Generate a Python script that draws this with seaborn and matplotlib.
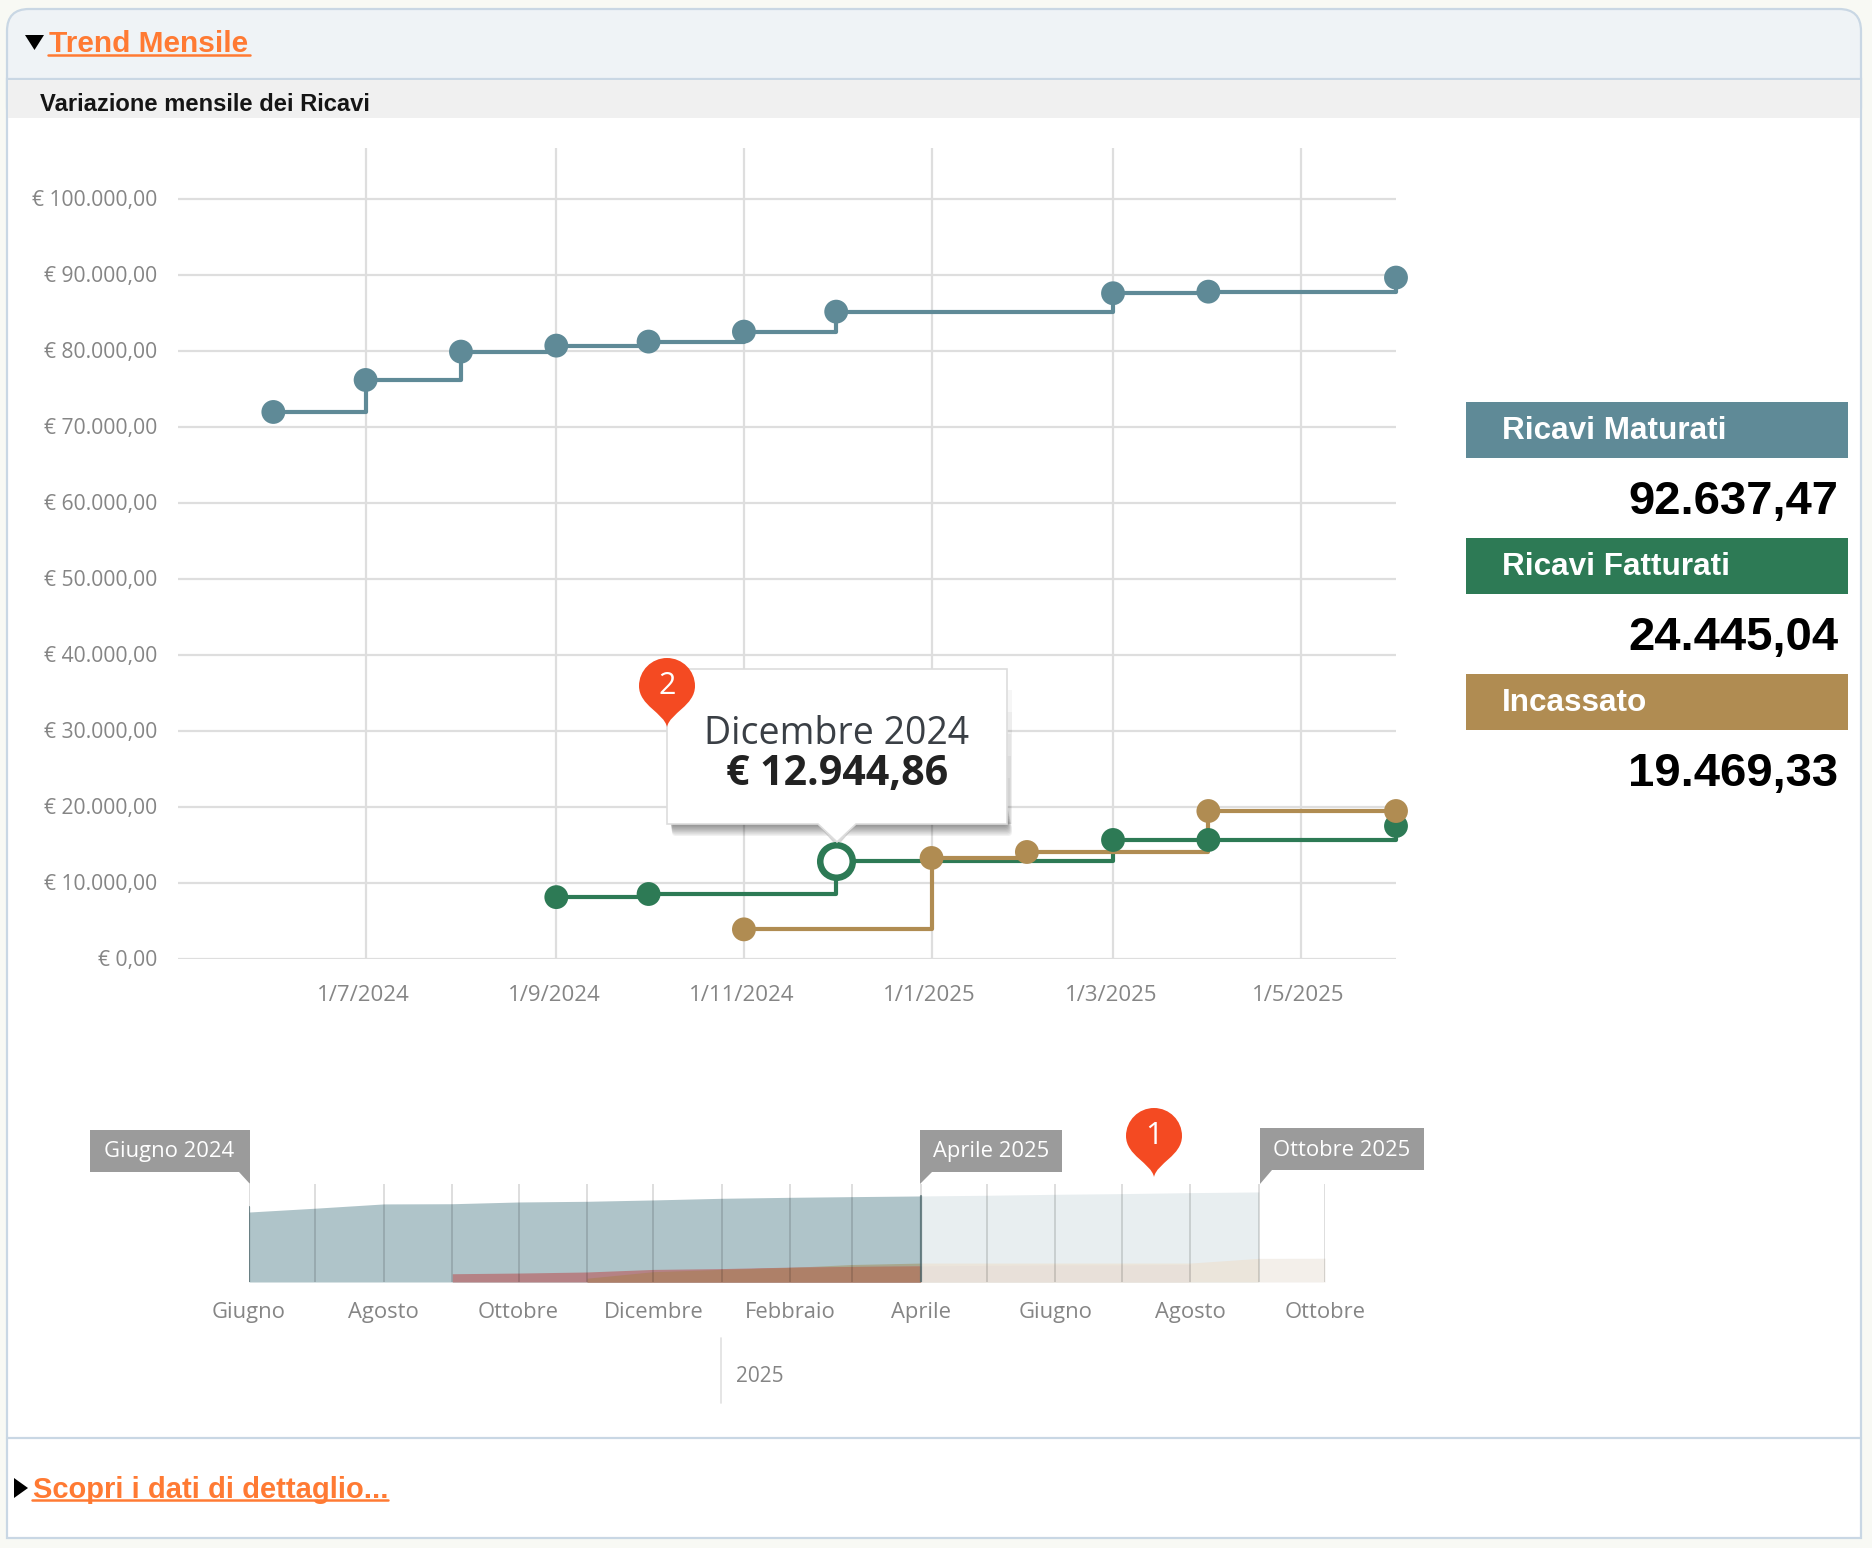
import matplotlib
matplotlib.use("Agg")
import matplotlib.pyplot as plt
import matplotlib.dates as mdates
from matplotlib.patches import Rectangle, Polygon, FancyBboxPatch, PathPatch
from matplotlib.path import Path
from matplotlib.transforms import ScaledTranslation
import numpy as np
import pandas as pd
import seaborn as sns

# ---- dati del grafico mensile ----
mesi_maturati = ["2024-06-01", "2024-07-01", "2024-08-01", "2024-09-01", "2024-10-01",
                 "2024-11-01", "2024-12-01", "2025-03-01", "2025-04-01", "2025-06-01"]
val_maturati = [71970, 76180, 79910, 80700, 81230, 82540, 85170, 87590, 87800, 89650]

mesi_fatturati = ["2024-09-01", "2024-10-01", "2024-12-01", "2025-03-01", "2025-04-01", "2025-06-01"]
val_fatturati = [8140, 8550, 12944.86, 15660, 15660, 17500]

mesi_incassato = ["2024-11-01", "2025-01-01", "2025-02-01", "2025-04-01", "2025-06-01"]
val_incassato = [3900, 13290, 14080, 19469.33, 19469.33]

tick_y = [0, 10000, 20000, 30000, 40000, 50000, 60000, 70000, 80000, 90000, 100000]
etichette_y = ["€ 0,00", "€ 10.000,00", "€ 20.000,00", "€ 30.000,00", "€ 40.000,00", "€ 50.000,00",
               "€ 60.000,00", "€ 70.000,00", "€ 80.000,00", "€ 90.000,00", "€ 100.000,00"]
tick_x = ["2024-07-01", "2024-09-01", "2024-11-01", "2025-01-01", "2025-03-01", "2025-05-01"]
etichette_x = ["1/7/2024", "1/9/2024", "1/11/2024", "1/1/2025", "1/3/2025", "1/5/2025"]

# ---- dati del navigatore temporale ----
nav_mesi = pd.date_range("2024-06-01", "2025-10-01", freq="MS")
nav_maturati = [71970, 75900, 80300, 80500, 82300, 83000, 84400, 86100, 87100, 87800,
                88500, 89200, 90200, 90900, 91900, 92637.47, np.nan]
nav_fatturati = [np.nan, np.nan, np.nan, 8500, 9200, 10300, 12944.86, 13800, 15300, 16000,
                 16500, 17000, 17500, 17500, 18000, 24300, 24445.04]
nav_incassato = [np.nan, np.nan, np.nan, np.nan, np.nan, 3900, 10600, 13000, 15000, 18000,
                 19469.33, 19469.33, 19469.33, 19469.33, 19469.33, np.nan, np.nan]
nav_tick_mesi = ["Giugno", "Agosto", "Ottobre", "Dicembre", "Febbraio", "Aprile", "Giugno", "Agosto", "Ottobre"]

# ---- riquadri riassuntivi ----
riepilogo = ["Ricavi Maturati", "Ricavi Fatturati", "Incassato"]
riepilogo_val = ["92.637,47", "24.445,04", "19.469,33"]
col_maturati, col_fatturati, col_incassato = "#5f8a97", "#2d7a55", "#b08c52"

W, H = 1872, 1548
sns.set_theme(style="white")
plt.rcParams["font.family"] = ["Open Sans", "DejaVu Sans"]
fig = plt.figure(figsize=(W / 100, H / 100), dpi=100, facecolor="#f8f9f4")


def axes_px(x0, y0, x1, y1, **kw):
    """Axes placed by pixel edges, with y measured from the top of the figure."""
    return fig.add_axes([x0 / W, 1 - y1 / H, (x1 - x0) / W, (y1 - y0) / H], **kw)


def canvas(zorder):
    a = fig.add_axes([0, 0, 1, 1], zorder=zorder)
    a.set_xlim(0, W)
    a.set_ylim(H, 0)
    a.axis("off")
    a.patch.set_alpha(0)
    return a


# ---- pannello di sfondo ----
bg = canvas(0)
bordo = "#c9d7e4"
bg.add_patch(FancyBboxPatch((7, 9), 1854, 120, boxstyle="round,pad=0,rounding_size=22",
                            fc="#eff3f6", ec=bordo, lw=1.6))
bg.add_patch(Rectangle((7, 79), 1854, 1459, fc="white", ec=bordo, lw=1.6))
bg.add_patch(Rectangle((8, 80), 1852, 38, fc="#f0f0f0", ec="none"))
bg.plot([7, 1861], [1438, 1438], color=bordo, lw=1.6)

sans = ["Liberation Sans", "DejaVu Sans"]
arancio = "#ff7a33"
bg.add_patch(Polygon([[25, 35], [44, 35], [34.5, 50]], fc="black", ec="none"))
bg.text(49, 44, "Trend Mensile", color=arancio, family=sans, weight="bold", fontsize=21.5,
        va="center", ha="left")
bg.plot([48, 250], [55, 55], color=arancio, lw=1.8)
bg.text(40, 104.5, "Variazione mensile dei Ricavi", color="#151515", family=sans, weight="bold",
        fontsize=17.1, va="center", ha="left")
bg.add_patch(Polygon([[14, 1478], [28, 1488], [14, 1498]], fc="black", ec="none"))
bg.text(33, 1490.5, "Scopri i dati di dettaglio...", color=arancio, family=sans, weight="bold",
        fontsize=21, va="center", ha="left")
bg.plot([32, 388], [1500, 1500], color=arancio, lw=1.8)

# ---- riquadri riassuntivi a destra ----
for nome, valore, col, top in zip(riepilogo, riepilogo_val,
                                  [col_maturati, col_fatturati, col_incassato], [402, 538, 674]):
    bg.add_patch(Rectangle((1466, top), 382, 56, fc=col, ec="none"))
    bg.text(1502, top + 29, nome, color="white", family=sans, weight="bold", fontsize=22.7,
            va="center", ha="left")
    bg.text(1838, top + 100, valore, color="black", family=sans, weight="bold", fontsize=34,
            va="center", ha="right")

# ---- grafico mensile a gradini ----
ax = axes_px(178, 148, 1396, 959, zorder=1)
ax.patch.set_alpha(0)
serie = pd.concat([
    pd.DataFrame({"mese": pd.to_datetime(mesi_maturati), "valore": val_maturati, "serie": riepilogo[0]}),
    pd.DataFrame({"mese": pd.to_datetime(mesi_fatturati), "valore": val_fatturati, "serie": riepilogo[1]}),
    pd.DataFrame({"mese": pd.to_datetime(mesi_incassato), "valore": val_incassato, "serie": riepilogo[2]}),
])
palette = dict(zip(riepilogo, [col_maturati, col_fatturati, col_incassato]))
sns.lineplot(data=serie, x="mese", y="valore", hue="serie", palette=palette, hue_order=riepilogo,
             drawstyle="steps-post", linewidth=3.0, errorbar=None, legend=False, ax=ax, zorder=3,
             clip_on=False)
sns.scatterplot(data=serie, x="mese", y="valore", hue="serie", palette=palette, hue_order=riepilogo,
                s=295, linewidth=0, legend=False, ax=ax, zorder=4, clip_on=False)
# cerchio evidenziato sul mese selezionato
ax.scatter(pd.to_datetime(["2024-12-01"]), [val_fatturati[2]], s=548, facecolor="white",
           edgecolor=col_fatturati, linewidth=4.7, zorder=5, clip_on=False)

ax.set_xlim(mdates.date2num(pd.Timestamp("2024-05-01")), mdates.date2num(pd.Timestamp("2025-06-01")))
ax.set_ylim(0, 106700)
ax.set_xticks(mdates.date2num(pd.to_datetime(tick_x)))
ax.set_xticklabels(etichette_x, fontsize=16, color="#858585")
ax.set_yticks(tick_y)
ax.set_yticklabels(etichette_y, fontsize=15.2, color="#858585")
ax.tick_params(axis="x", length=0, pad=19)
ax.tick_params(axis="y", length=0, pad=15)
# etichette dell'asse x leggermente a sinistra delle linee di griglia
sposta_x = ScaledTranslation(-2 / 100, 0, fig.dpi_scale_trans)
for lab in ax.get_xticklabels():
    lab.set_transform(lab.get_transform() + sposta_x)
sposta_y = ScaledTranslation(0, 1 / 100, fig.dpi_scale_trans)
for lab in ax.get_yticklabels():
    lab.set_transform(lab.get_transform() + sposta_y)
ax.grid(True, color="#dedede", lw=1.6)
ax.set_axisbelow(True)
ax.set_xlabel("")
ax.set_ylabel("")
sns.despine(ax=ax, left=True, bottom=True)

# ---- navigatore temporale ----
nav = axes_px(249, 1184, 1325, 1282, zorder=1)
nav.patch.set_alpha(0)
limite = pd.Timestamp("2025-04-01")
fine_mat = pd.Timestamp("2025-09-01")
sel = nav_mesi <= limite
dopo = nav_mesi >= limite
fat = np.array(nav_fatturati, dtype=float)
inc = np.array(nav_incassato, dtype=float)
mat = np.array(nav_maturati, dtype=float)
alto = np.fmax(fat, inc)
comune = np.minimum(fat, inc)

# tratto oltre la selezione: colori sbiaditi
nav.fill_between(nav_mesi[nav_mesi >= fine_mat], fat[nav_mesi >= fine_mat], color="#f3efea", lw=0)
nav.fill_between(nav_mesi[dopo], mat[dopo], color="#e8eef0", lw=0)
dopo_fat = dopo & (nav_mesi <= fine_mat)
nav.fill_between(nav_mesi[dopo_fat], alto[dopo_fat], color="#ebe5db", lw=0)
nav.fill_between(nav_mesi[dopo_fat], comune[dopo_fat], color="#e8e0d9", lw=0)
# tratto selezionato: colori pieni con la sovrapposizione delle serie
nav.fill_between(nav_mesi[sel], mat[sel], color="#afc4c9", lw=0)
nav.fill_between(nav_mesi[sel], inc[sel], color="#a8a88e", lw=0)
nav.fill_between(nav_mesi[sel], fat[sel], color="#b58285", lw=0)
nav.fill_between(nav_mesi[sel], comune[sel], color="#ae8068", lw=0)

nav.set_xlim(mdates.date2num(nav_mesi[0]), mdates.date2num(nav_mesi[-1]))
nav.set_ylim(0, 100800)
for m in nav_mesi:
    nav.axvline(m, color="black", alpha=0.17, lw=1.1, zorder=3)
for m in [nav_mesi[0], limite]:
    nav.plot([m, m], [0, 77000 if m == nav_mesi[0] else 88000], color="#4f6a6f", alpha=0.75, lw=1.6, zorder=4)
nav.set_yticks([])
nav.set_xticks(mdates.date2num(nav_mesi[::2]))
nav.set_xticklabels(nav_tick_mesi, fontsize=15.8, color="#858585")
nav.tick_params(axis="x", length=0, pad=14.5)
nav.set_xlabel("")
nav.set_ylabel("")
sns.despine(ax=nav, left=True, bottom=True)
nav.grid(False)

# ---- elementi sovrapposti: etichette, tooltip e segnaposto ----
top = canvas(5)
top.plot([721, 721], [1338, 1403], color="#e0e0e0", lw=1.2)
top.text(736, 1376, "2025", fontsize=15, color="#858585", va="center", ha="left")

grigio = "#9b9b9b"
top.add_patch(Polygon([[90, 1130], [250, 1130], [250, 1184], [239, 1172], [90, 1172]], fc=grigio, ec="none"))
top.text(169, 1152, "Giugno 2024", color="white", fontsize=15.8, ha="center", va="center")
top.add_patch(Polygon([[920, 1130], [1062, 1130], [1062, 1172], [932, 1172], [920, 1184]], fc=grigio, ec="none"))
top.text(991, 1152, "Aprile 2025", color="white", fontsize=15.8, ha="center", va="center")
top.add_patch(Polygon([[1260, 1128], [1424, 1128], [1424, 1170], [1272, 1170], [1260, 1184]], fc=grigio, ec="none"))
top.text(1342, 1150, "Ottobre 2025", color="white", fontsize=15.8, ha="center", va="center")

# ombra sfumata del tooltip: ogni strato si allarga e sale appena
for i in range(10):
    altezza = 12 + i * 1.5
    destra = 1007 + 5 - i * 0.6
    base = 824 + 12 - i * 1.3
    sinistra = 672 - i * 0.2
    top.add_patch(FancyBboxPatch((sinistra, base - altezza), destra - sinistra, altezza,
                                 boxstyle="round,pad=0,rounding_size=4", fc="black", ec="none", alpha=0.055))
for i in range(5):
    top.add_patch(Rectangle((1007, 690 + i * 22), 5 - i * 0.0 - i * 0.5, 134 - i * 22,
                            fc="black", ec="none", alpha=0.035))
top.add_patch(Polygon([[817, 824], [857, 824], [841, 842], [833, 842]], fc="#8a8a8a", ec="none", alpha=0.35))
top.add_patch(Polygon([[667, 669], [1007, 669], [1007, 824], [856, 824], [837, 842], [818, 824], [667, 824]],
                      fc="white", ec="#dddddd", lw=1.2))
top.text(837, 734, "Dicembre 2024", fontsize=27, color="#3a3f45", ha="center", va="center")
top.text(837, 775, "€ 12.944,86", fontsize=29.6, weight="bold", color="#222222", ha="center", va="center")


def segnaposto(cx, cy, r, punta, testo):
    """Teardrop marker with a number inside."""
    k = 0.5523 * r
    verts = [(cx, punta), (cx + 3, punta - 14), (cx + r, cy + r * 0.7), (cx + r, cy),
             (cx + r, cy - k), (cx + k, cy - r), (cx, cy - r),
             (cx - k, cy - r), (cx - r, cy - k), (cx - r, cy),
             (cx - r, cy + r * 0.7), (cx - 3, punta - 14), (cx, punta), (cx, punta)]
    codes = [Path.MOVETO] + [Path.CURVE4] * 12 + [Path.CLOSEPOLY]
    top.add_patch(PathPatch(Path(verts, codes), fc="#f44a22", ec="none"))
    top.text(cx, cy, testo, color="white", fontsize=22, ha="center", va="center")


segnaposto(667, 686, 28, 727, "2")
segnaposto(1154, 1136, 28, 1177, "1")

fig.savefig("out.png", dpi=100, facecolor=fig.get_facecolor())
